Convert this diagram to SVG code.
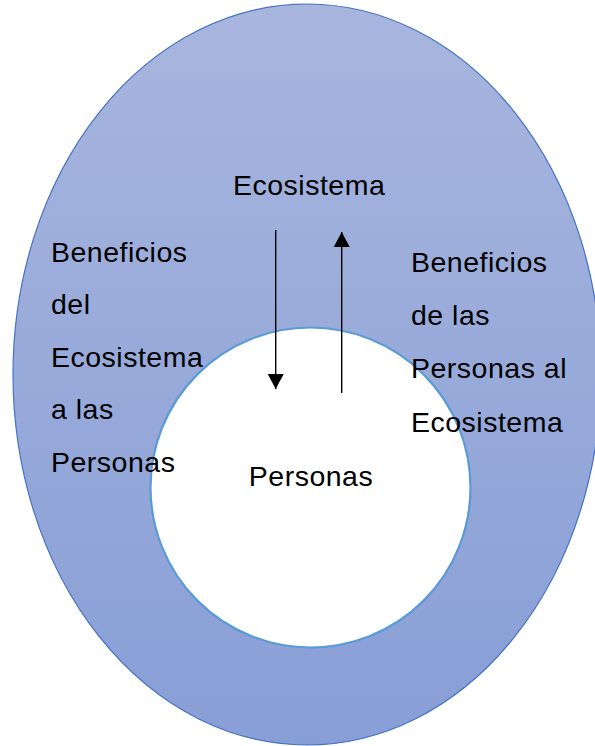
<svg xmlns="http://www.w3.org/2000/svg" width="595" height="746" viewBox="0 0 595 746">
<defs>
<linearGradient id="g" x1="0" y1="0" x2="0" y2="1">
<stop offset="0" stop-color="#a8b6de"/>
<stop offset="1" stop-color="#889ed6"/>
</linearGradient>
<marker id="ah" markerWidth="15" markerHeight="16" refX="15" refY="8" orient="auto" markerUnits="userSpaceOnUse">
<path d="M0,0 L15,8 L0,16 Z" fill="#000"/>
</marker>
<style>
text{font-family:"Liberation Sans",Arial,sans-serif;font-size:28.5px;fill:#000;letter-spacing:0.5px}
.c{stroke:#000;stroke-width:1.4;fill:none}
</style>
</defs>
<rect width="595" height="746" fill="#fff"/>
<g id="ecosistema">
<ellipse cx="307" cy="374.5" rx="294" ry="370.5" fill="url(#g)" stroke="#4472c4" stroke-width="1.2"/>
<text x="233" y="195">Ecosistema</text>
</g>
<g id="personas">
<circle cx="310.5" cy="487.5" r="160" fill="#fff" stroke="#5b9bd5" stroke-width="2.2"/>
<text x="311" y="486" text-anchor="middle">Personas</text>
</g>
<g id="label-left">
<text x="51" y="262">Beneficios</text>
<text x="51" y="314">del</text>
<text x="51" y="367">Ecosistema</text>
<text x="51" y="419">a las</text>
<text x="51" y="472">Personas</text>
</g>
<g id="label-right">
<text x="411" y="272">Beneficios</text>
<text x="411" y="325">de las</text>
<text x="411" y="378">Personas al</text>
<text x="411" y="432">Ecosistema</text>
</g>
<g id="connectors">
<line class="c" x1="275.7" y1="230" x2="275.7" y2="389" marker-end="url(#ah)"/>
<line class="c" x1="341.7" y1="393" x2="341.7" y2="232" marker-end="url(#ah)"/>
</g>
</svg>
